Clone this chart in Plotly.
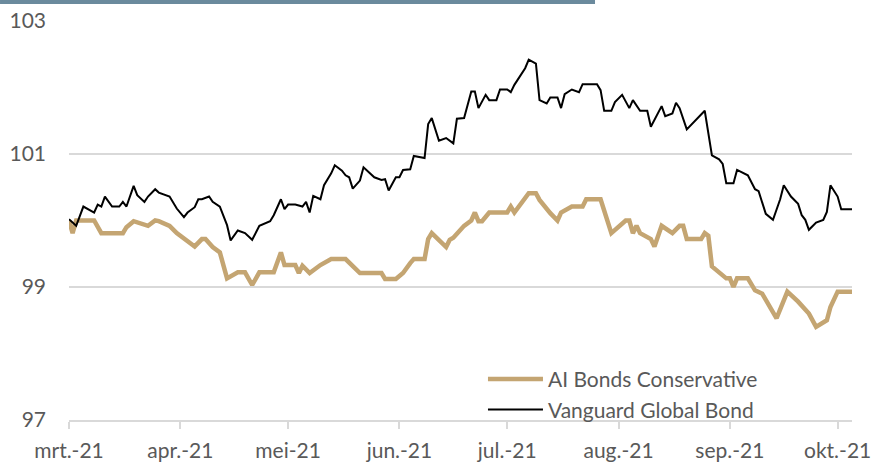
import plotly.graph_objects as go

vg_dates = ["2021-03-01","2021-03-03","2021-03-05","2021-03-08","2021-03-09","2021-03-10","2021-03-11","2021-03-13",
"2021-03-15","2021-03-16","2021-03-17","2021-03-19","2021-03-20","2021-03-22","2021-03-23","2021-03-25","2021-03-26",
"2021-03-29","2021-03-31","2021-04-02","2021-04-03","2021-04-05","2021-04-06","2021-04-07","2021-04-09","2021-04-10",
"2021-04-12","2021-04-13","2021-04-14","2021-04-15","2021-04-17","2021-04-19","2021-04-21","2021-04-23","2021-04-26",
"2021-04-27","2021-04-29","2021-04-30","2021-05-01","2021-05-03","2021-05-05","2021-05-06","2021-05-07","2021-05-08",
"2021-05-10","2021-05-11","2021-05-13","2021-05-14","2021-05-16","2021-05-17","2021-05-18","2021-05-19","2021-05-21",
"2021-05-22","2021-05-25","2021-05-27","2021-05-28","2021-05-29","2021-05-31","2021-06-01","2021-06-02","2021-06-04",
"2021-06-05","2021-06-08","2021-06-09","2021-06-10","2021-06-12","2021-06-14","2021-06-16","2021-06-17","2021-06-19",
"2021-06-21","2021-06-22","2021-06-23","2021-06-25","2021-06-26","2021-06-28","2021-06-29","2021-07-01","2021-07-02",
"2021-07-03","2021-07-06","2021-07-07","2021-07-09","2021-07-10","2021-07-12","2021-07-13","2021-07-15","2021-07-16",
"2021-07-17","2021-07-19","2021-07-21","2021-07-22","2021-07-26","2021-07-27","2021-07-28","2021-07-30","2021-07-31",
"2021-08-02","2021-08-04","2021-08-05","2021-08-07","2021-08-09","2021-08-10","2021-08-13","2021-08-14","2021-08-16",
"2021-08-17","2021-08-18","2021-08-20","2021-08-25","2021-08-27","2021-08-29","2021-08-30","2021-08-31","2021-09-02",
"2021-09-03","2021-09-06","2021-09-08","2021-09-09","2021-09-11","2021-09-13","2021-09-15","2021-09-16","2021-09-18",
"2021-09-20","2021-09-21","2021-09-22","2021-09-23","2021-09-25","2021-09-27","2021-09-28","2021-09-29","2021-10-01",
"2021-10-02","2021-10-05"]
vg_values = [100.02,99.92,100.21,100.12,100.24,100.21,100.36,100.21,
100.21,100.28,100.21,100.52,100.38,100.28,100.36,100.47,100.42,
100.36,100.18,100.05,100.12,100.20,100.32,100.32,100.36,100.28,
100.21,100.06,99.93,99.70,99.85,99.81,99.71,99.92,99.99,
100.08,100.32,100.17,100.24,100.24,100.21,100.28,100.12,100.37,
100.32,100.53,100.71,100.83,100.75,100.68,100.65,100.48,100.60,
100.80,100.65,100.61,100.62,100.45,100.65,100.65,100.76,100.77,
100.97,100.94,101.45,101.54,101.20,101.24,101.16,101.53,101.54,
101.94,101.94,101.69,101.89,101.81,101.81,101.97,101.97,101.93,
102.04,102.29,102.42,102.36,101.81,101.76,101.85,101.85,101.69,
101.90,101.97,101.93,102.05,102.05,101.96,101.65,101.65,101.78,
101.89,101.69,101.81,101.65,101.65,101.41,101.72,101.57,101.61,
101.77,101.69,101.37,101.65,100.98,100.92,100.85,100.56,100.56,
100.76,100.68,100.47,100.44,100.10,100.01,100.32,100.53,100.36,
100.25,100.08,100.01,99.86,99.97,100.01,100.13,100.53,100.36,
100.17,100.17]

ai_dates = ["2021-03-01","2021-03-02","2021-03-03","2021-03-08","2021-03-10","2021-03-16","2021-03-17","2021-03-19",
"2021-03-23","2021-03-25","2021-03-26","2021-03-29","2021-03-31","2021-04-02","2021-04-05","2021-04-07","2021-04-08",
"2021-04-10","2021-04-12","2021-04-14","2021-04-17","2021-04-19","2021-04-21","2021-04-23","2021-04-27","2021-04-29",
"2021-04-30","2021-05-03","2021-05-04","2021-05-05","2021-05-07","2021-05-10","2021-05-13","2021-05-17","2021-05-19",
"2021-05-21","2021-05-27","2021-05-28","2021-05-31","2021-06-02","2021-06-04","2021-06-05","2021-06-08","2021-06-09",
"2021-06-10","2021-06-12","2021-06-14","2021-06-15","2021-06-16","2021-06-19","2021-06-21","2021-06-22","2021-06-23",
"2021-06-24","2021-06-26","2021-07-01","2021-07-02","2021-07-03","2021-07-07","2021-07-09","2021-07-10","2021-07-13",
"2021-07-15","2021-07-16","2021-07-19","2021-07-22","2021-07-23","2021-07-27","2021-07-29","2021-07-30","2021-08-03",
"2021-08-04","2021-08-05","2021-08-06","2021-08-07","2021-08-10","2021-08-11","2021-08-13","2021-08-16","2021-08-18",
"2021-08-19","2021-08-20","2021-08-24","2021-08-25","2021-08-26","2021-08-27","2021-08-31","2021-09-01","2021-09-02",
"2021-09-03","2021-09-06","2021-09-08","2021-09-10","2021-09-14","2021-09-17","2021-09-20","2021-09-23","2021-09-25",
"2021-09-28","2021-09-29","2021-10-01","2021-10-05"]
ai_values = [100.00,99.81,100.00,100.00,99.81,99.81,99.90,99.99,
99.92,100.00,99.99,99.92,99.81,99.73,99.61,99.72,99.72,
99.60,99.52,99.13,99.22,99.22,99.03,99.22,99.22,99.52,
99.33,99.33,99.21,99.32,99.21,99.33,99.42,99.42,99.31,
99.21,99.21,99.12,99.12,99.21,99.36,99.42,99.42,99.72,
99.81,99.70,99.60,99.71,99.74,99.92,100.00,100.12,99.99,
99.99,100.12,100.12,100.21,100.12,100.41,100.41,100.31,100.11,
100.00,100.12,100.21,100.21,100.32,100.32,99.97,99.81,100.00,
100.00,99.81,99.92,99.81,99.72,99.61,99.92,99.81,99.92,
99.92,99.72,99.72,99.81,99.77,99.31,99.13,99.13,99.00,
99.13,99.13,98.95,98.90,98.53,98.93,98.78,98.60,98.40,
98.50,98.70,98.93,98.93]

tick_vals = ["2021-03-01","2021-04-01","2021-05-01","2021-06-01","2021-07-01","2021-08-01","2021-09-01","2021-10-01"]
tick_text = ["mrt.-21","apr.-21","mei-21","jun.-21","jul.-21","aug.-21","sep.-21","okt.-21"]
y_ticks = [97, 99, 101, 103]

FONT = "Lato"
TXT = "#595959"
GRID = "#d9d9d9"

fig = go.Figure()
fig.add_trace(go.Scatter(x=ai_dates, y=ai_values, mode="lines", name="AI Bonds Conservative",
                         line=dict(color="#c4a572", width=4.5)))
fig.add_trace(go.Scatter(x=vg_dates, y=vg_values, mode="lines", name="Vanguard Global Bond",
                         line=dict(color="#000000", width=2)))

fig.update_layout(
    width=874, height=462,
    margin=dict(l=69, r=22, t=21, b=42, autoexpand=False),
    paper_bgcolor="white", plot_bgcolor="white",
    font=dict(family=FONT, size=21, color=TXT),
    showlegend=True,
    legend=dict(x=0.5287, y=0.153, xanchor="left", yanchor="top", bgcolor="rgba(0,0,0,0)",
                font=dict(family=FONT, size=21, color=TXT), itemwidth=55, tracegroupgap=0),
    xaxis=dict(type="date", range=["2021-03-01", "2021-10-05"], tickvals=tick_vals, ticktext=tick_text,
               showgrid=False, showline=True, linecolor=GRID, linewidth=2, automargin=False,
               ticks="outside", ticklen=7, tickwidth=2, tickcolor=GRID, zeroline=False,
               ticklabelstandoff=4),
    yaxis=dict(range=[97, 103], tickvals=y_ticks, showgrid=True, gridcolor=GRID, gridwidth=2, automargin=False,
               zeroline=False, showline=False, ticks="", ticklabelstandoff=22),
    shapes=[dict(type="rect", xref="paper", yref="paper", x0=-0.0881, x1=0.6718, y0=1.0426, y1=1.06,
                 fillcolor="#6b8a9d", line=dict(width=0), layer="above")],
)

fig.write_html("out.html", config={"displayModeBar": False},
               post_script="document.body.style.margin='0';document.body.style.padding='0';")
